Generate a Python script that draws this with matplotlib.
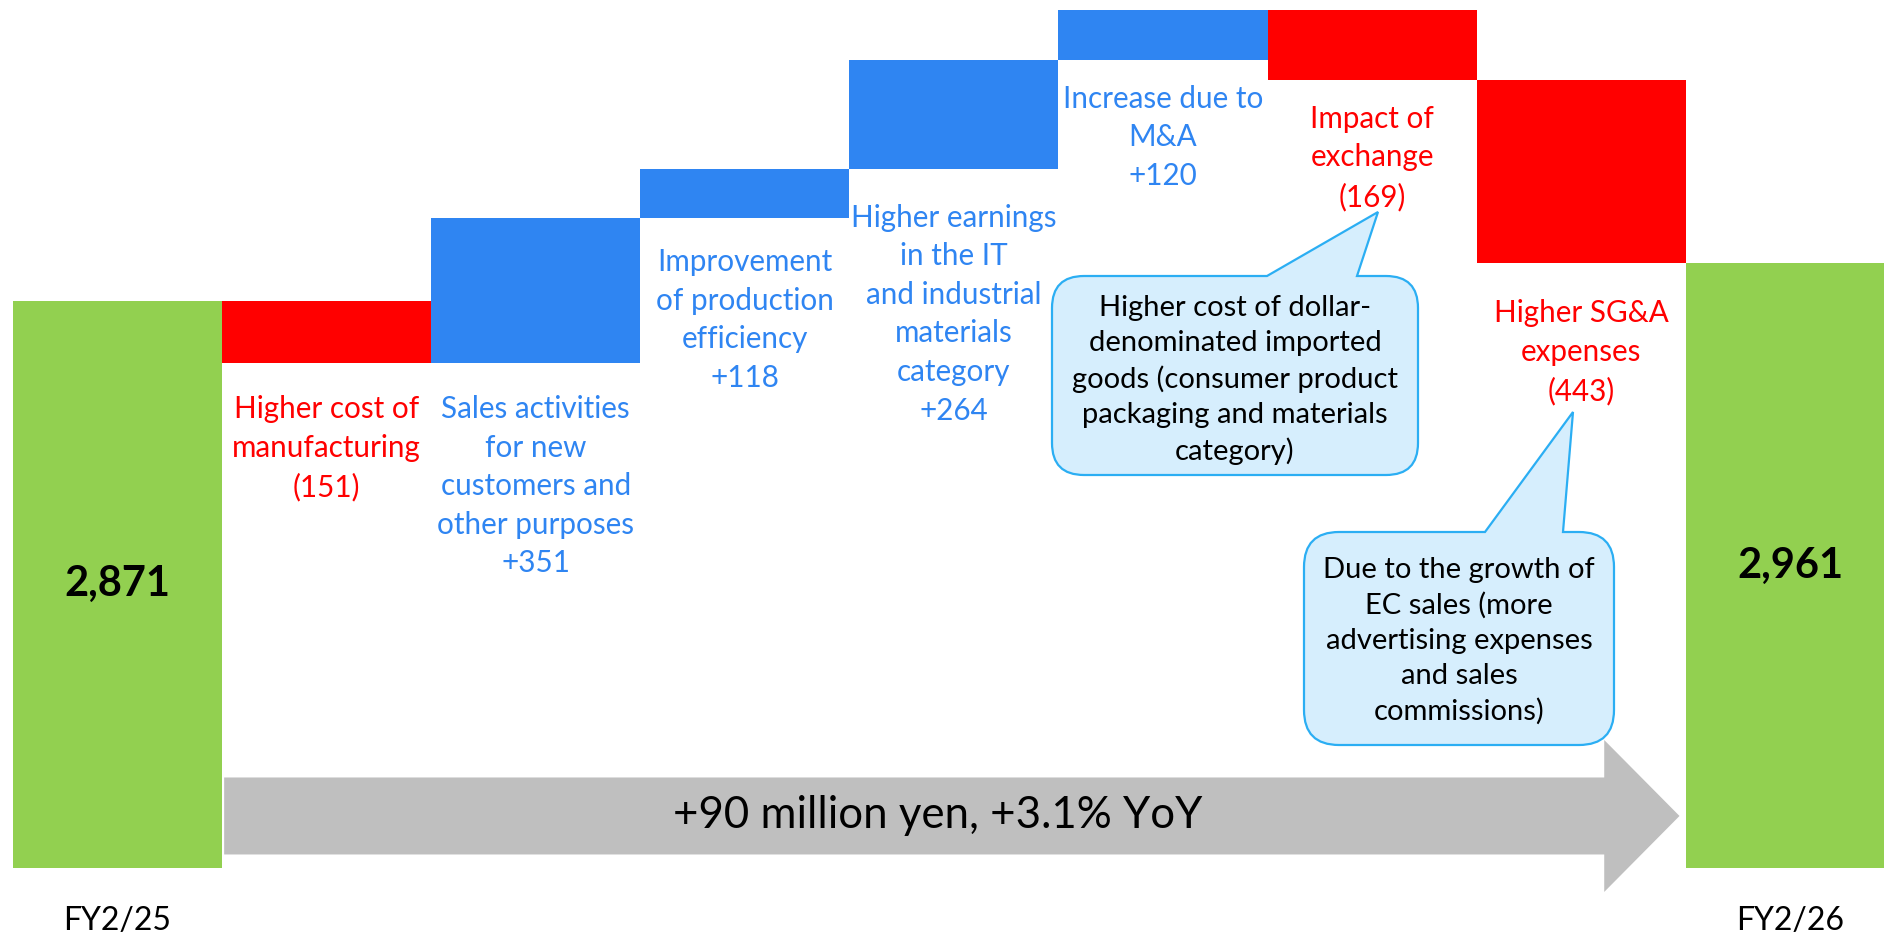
import matplotlib
matplotlib.use("Agg")
import matplotlib.pyplot as plt
import numpy as np
from matplotlib.path import Path
from matplotlib.patches import PathPatch, FancyArrow
from matplotlib.transforms import Affine2D

plt.rcParams['font.family'] = ['Lato', 'DejaVu Sans']

# ---------------- data ----------------
start_label = "FY2/25"
end_label = "FY2/26"
start_value = 2871
end_value = 2961
step_labels = [
    "Higher cost of\nmanufacturing",
    "Sales activities\nfor new\ncustomers and\nother purposes",
    "Improvement\nof production\nefficiency",
    "Higher earnings\nin the IT\nand industrial\nmaterials\ncategory",
    "Increase due to\nM&A",
    "Impact of\nexchange",
    "Higher SG&A\nexpenses",
]
step_values = [-151, 351, 118, 264, 120, -169, -443]
total_change_text = "+90 million yen, +3.1% YoY"
callout_texts = [
    "Higher cost of dollar-\ndenominated imported\ngoods (consumer product\npackaging and materials\ncategory)",
    "Due to the growth of\nEC sales (more\nadvertising expenses\nand sales\ncommissions)",
]

# ---------------- style ----------------
GREEN = "#92D050"
BLUE = "#2F85F2"
RED = "#FF0000"
GRAY = "#BFBFBF"
CALLOUT_FILL = "#D6EEFD"
CALLOUT_EDGE = "#2BAEF3"
axis_floor = 1500
label_gaps_pt = [-23, -23, -22, -25, -18, -18, -26]

W, H = 1884, 941
fig = plt.figure(figsize=(W / 100, H / 100), dpi=100)
ax = fig.add_axes([0, 0, 1, 1])
ax.set_xlim(-0.562, 8.448)
ax.set_ylim(1324, 3597)
ax.axis("off")

# ---------------- waterfall bars ----------------
n_steps = len(step_values)
x_pos = np.arange(n_steps + 2)
bottoms = [axis_floor]
heights = [start_value - axis_floor]
colors = [GREEN]
running = start_value
for v in step_values:
    new = running + v
    bottoms.append(min(running, new))
    heights.append(abs(v))
    colors.append(BLUE if v > 0 else RED)
    running = new
bottoms.append(axis_floor)
heights.append(end_value - axis_floor)
colors.append(GREEN)
ax.bar(x_pos, heights, bottom=bottoms, width=1.0, color=colors, linewidth=0)


def fmt(v):
    return f"+{v}" if v > 0 else f"({abs(v)})"


for i, (lab, v) in enumerate(zip(step_labels, step_values)):
    ax.annotate(f"{lab}\n{fmt(v)}", xy=(i + 1, bottoms[i + 1]), xytext=(0, label_gaps_pt[i]),
                textcoords="offset points", ha="center", va="top",
                color=BLUE if v > 0 else RED, fontsize=21.3, linespacing=1.46)

# totals
for xi, val in [(0, start_value), (n_steps + 1, end_value)]:
    ax.text(xi, (axis_floor + val) / 2, f"{val:,}", ha="center", va="center",
            fontsize=30, fontweight="bold", color="black")
for xi, lab in [(0, start_label), (n_steps + 1, end_label)]:
    ax.annotate(lab, xy=(xi, axis_floor), xytext=(0, -38), textcoords="offset points",
                ha="center", va="center", fontsize=23, color="black")

# ---------------- big gray arrow ----------------
arrow_x0, arrow_x1 = 0.51, 7.47
arrow_y = 1626
arrow = FancyArrow(arrow_x0, arrow_y, arrow_x1 - arrow_x0, 0, width=186,
                   head_width=367, head_length=0.36, length_includes_head=True,
                   color=GRAY, linewidth=0)
ax.add_patch(arrow)
ax.text(3.92, arrow_y, total_change_text, ha="center", va="center", fontsize=31.5,
        color="black")

# ---------------- callouts (pixel layout, y down) ----------------
pix = Affine2D().scale(1 / W, -1 / H).translate(0, 1) + fig.transFigure


def callout(x0, y0, x1, y1, r, tl, tr, apex):
    verts = [
        (x0 + r, y0), (tl, y0), apex, (tr, y0), (x1 - r, y0),
        (x1, y0), (x1, y0 + r),
        (x1, y1 - r),
        (x1, y1), (x1 - r, y1),
        (x0 + r, y1),
        (x0, y1), (x0, y1 - r),
        (x0, y0 + r),
        (x0, y0), (x0 + r, y0),
        (x0 + r, y0),
    ]
    codes = [Path.MOVETO, Path.LINETO, Path.LINETO, Path.LINETO, Path.LINETO,
             Path.CURVE3, Path.CURVE3,
             Path.LINETO,
             Path.CURVE3, Path.CURVE3,
             Path.LINETO,
             Path.CURVE3, Path.CURVE3,
             Path.LINETO,
             Path.CURVE3, Path.CURVE3,
             Path.CLOSEPOLY]
    p = PathPatch(Path(verts, codes), facecolor=CALLOUT_FILL, edgecolor=CALLOUT_EDGE,
                  linewidth=1.6, transform=pix, zorder=5)
    fig.add_artist(p)


callout(1052, 276, 1418, 475, 32, 1267, 1357, (1378, 212))
callout(1304, 532, 1614, 745, 35, 1485, 1563, (1573, 412))

fig.text(1235 / W, 1 - 380 / H, callout_texts[0], ha="center", va="center",
         fontsize=21, linespacing=1.42, color="black", zorder=6)
fig.text(1459 / W, 1 - 641 / H, callout_texts[1], ha="center", va="center",
         fontsize=21, linespacing=1.42, color="black", zorder=6)

fig.savefig("out.png", dpi=100)
